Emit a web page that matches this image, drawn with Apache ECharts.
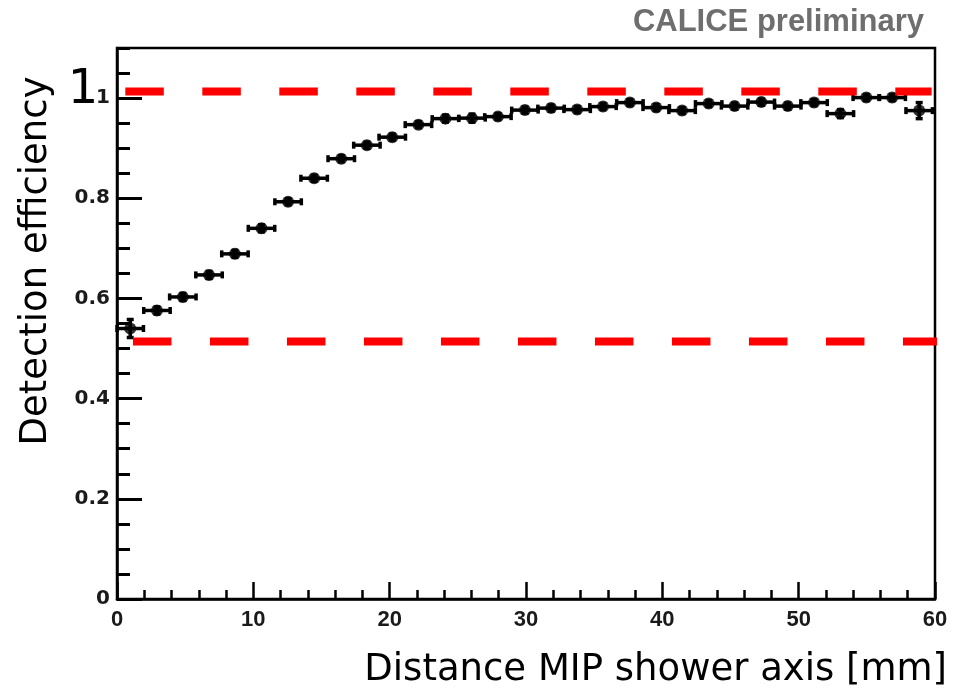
<!DOCTYPE html>
<html>
<head>
<meta charset="utf-8">
<script src="https://cdn.jsdelivr.net/npm/echarts@6/dist/echarts.min.js"></script>
<style>
  html, body { margin: 0; padding: 0; background: #fff; }
  #chart { width: 970px; height: 690px; }
</style>
</head>
<body>
<div id="chart"></div>
<script>
// bin centres [mm], efficiency and its error
const distance = [0.97, 2.93, 4.83, 6.75, 8.65, 10.6, 12.55, 14.46, 16.45, 18.33,
  20.19, 22.11, 24.09, 26.04, 27.94, 29.92, 31.84, 33.75, 35.65, 37.62,
  39.55, 41.45, 43.4, 45.3, 47.26, 49.2, 51.13, 53.06, 54.96, 56.86, 58.84]
const efficiency = [0.540, 0.576, 0.603, 0.647, 0.689, 0.740, 0.793, 0.840, 0.879, 0.906,
  0.922, 0.947, 0.959, 0.960, 0.963, 0.976, 0.980, 0.977, 0.983, 0.991,
  0.981, 0.975, 0.989, 0.984, 0.992, 0.984, 0.991, 0.969, 1.001, 1.001, 0.975]
const effError = [0.018, 0.007, 0.007, 0.007, 0.007, 0.007, 0.006, 0.006, 0.006, 0.006,
  0.006, 0.006, 0.007, 0.008, 0.006, 0.006, 0.006, 0.006, 0.006, 0.006,
  0.006, 0.006, 0.006, 0.006, 0.006, 0.006, 0.006, 0.008, 0.006, 0.006, 0.016]
const binHalfWidth = 0.97

// red dashed guide lines: [x, level] at both ends
const upperLine = [[0.61, 1.013], [59.75, 1.013]]
const lowerLine = [[1.17, 0.514], [60.15, 0.514]]

const yTicks = [0, 0.2, 0.4, 0.6, 0.8, 1]

const chart = echarts.init(document.getElementById('chart'), null, { renderer: 'canvas' })

function renderErrorBar(params, api) {
  const x = api.value(0)
  const y = api.value(1)
  const e = api.value(2)
  const l = api.coord([x - binHalfWidth, y])
  const r = api.coord([x + binHalfWidth, y])
  const t = api.coord([x, y + e])
  const b = api.coord([x, y - e])
  const style = { stroke: '#000', lineWidth: 3.5 }
  const cap = 3.5
  return {
    type: 'group',
    children: [
      { type: 'line', shape: { x1: l[0], y1: l[1], x2: r[0], y2: r[1] }, style },
      { type: 'line', shape: { x1: l[0], y1: l[1] - cap, x2: l[0], y2: l[1] + cap }, style },
      { type: 'line', shape: { x1: r[0], y1: r[1] - cap, x2: r[0], y2: r[1] + cap }, style },
      { type: 'line', shape: { x1: t[0], y1: t[1], x2: b[0], y2: b[1] }, style },
      { type: 'line', shape: { x1: t[0] - cap, y1: t[1], x2: t[0] + cap, y2: t[1] }, style },
      { type: 'line', shape: { x1: b[0] - cap, y1: b[1], x2: b[0] + cap, y2: b[1] }, style },
    ],
  }
}

chart.setOption({
  backgroundColor: '#fff',
  animation: false,
  grid: {
    left: 117, right: 35, top: 48, bottom: 91,
    show: true, borderColor: '#000', borderWidth: 2.5,
    containLabel: false,
  },
  xAxis: {
    type: 'value', min: 0, max: 60, interval: 10,
    axisLine: { lineStyle: { color: '#000', width: 2.5 } },
    axisTick: { inside: true, length: 17, lineStyle: { color: '#000', width: 2.5 } },
    minorTick: { show: true, splitNumber: 5, length: 9, lineStyle: { color: '#000', width: 2.5 } },
    splitLine: { show: false },
    axisLabel: {
      margin: 10,
      fontFamily: 'Liberation Sans', fontWeight: 'bold', fontSize: 22, color: '#1a1a1a',
    },
  },
  yAxis: [
    {
      type: 'value', min: 0, max: 1.1, interval: 0.2,
      axisLine: { lineStyle: { color: '#000', width: 2.5 } },
      axisTick: { inside: true, length: 25, lineStyle: { color: '#000', width: 3 } },
      splitLine: { show: false },
      axisLabel: {
        margin: 7, showMaxLabel: false,
        fontFamily: 'DejaVu Sans', fontWeight: 'bold', fontSize: 20, color: '#1a1a1a',
        formatter: (v) => {
          const t = yTicks.find((k) => Math.abs(k - v) < 1e-6)
          return t === undefined ? '' : (t === 0 || t === 1 ? String(t) : t.toFixed(1))
        },
      },
    },
    {
      type: 'value', min: 0, max: 1.1, interval: 0.05, position: 'left',
      axisLine: { show: false },
      axisTick: { inside: true, length: 13, lineStyle: { color: '#000', width: 3 } },
      axisLabel: { show: false },
      splitLine: { show: false },
    },
  ],
  graphic: [
    {
      type: 'text', x: 36, y: 261, rotation: Math.PI / 2,
      style: { text: 'Detection efficiency', font: '37px "DejaVu Sans"', fill: '#000', align: 'center', verticalAlign: 'middle' },
    },
    {
      type: 'text', x: 83, y: 91,
      style: { text: '1', font: '48px "DejaVu Sans"', fill: '#000', align: 'center', verticalAlign: 'middle' },
    },
    {
      type: 'text', x: 924, y: 22,
      style: { text: 'CALICE preliminary', font: 'bold 31px "Liberation Sans"', fill: '#6e6e6e', align: 'right', verticalAlign: 'middle' },
    },
    {
      type: 'text', x: 947, y: 670,
      style: { text: 'Distance MIP shower axis [mm]', font: '37px "DejaVu Sans"', fill: '#000', align: 'right', verticalAlign: 'middle' },
    },
  ],
  series: [
    {
      type: 'custom',
      renderItem: renderErrorBar,
      data: distance.map((x, i) => [x, efficiency[i], effError[i]]),
      encode: { x: 0, y: 1 },
      z: 2,
    },
    {
      type: 'scatter',
      data: distance.map((x, i) => [x, efficiency[i]]),
      symbol: 'circle',
      symbolSize: 12,
      itemStyle: { color: '#000' },
      z: 3,
    },
    {
      type: 'line',
      data: upperLine,
      symbol: 'none',
      clip: false,
      lineStyle: { color: '#ff0000', width: 8, type: [38.5, 38.5], cap: 'butt' },
      z: 4,
    },
    {
      type: 'line',
      data: lowerLine,
      symbol: 'none',
      clip: false,
      lineStyle: { color: '#ff0000', width: 8, type: [38.5, 38.5], cap: 'butt' },
      z: 4,
    },
  ],
})
</script>
</body>
</html>
